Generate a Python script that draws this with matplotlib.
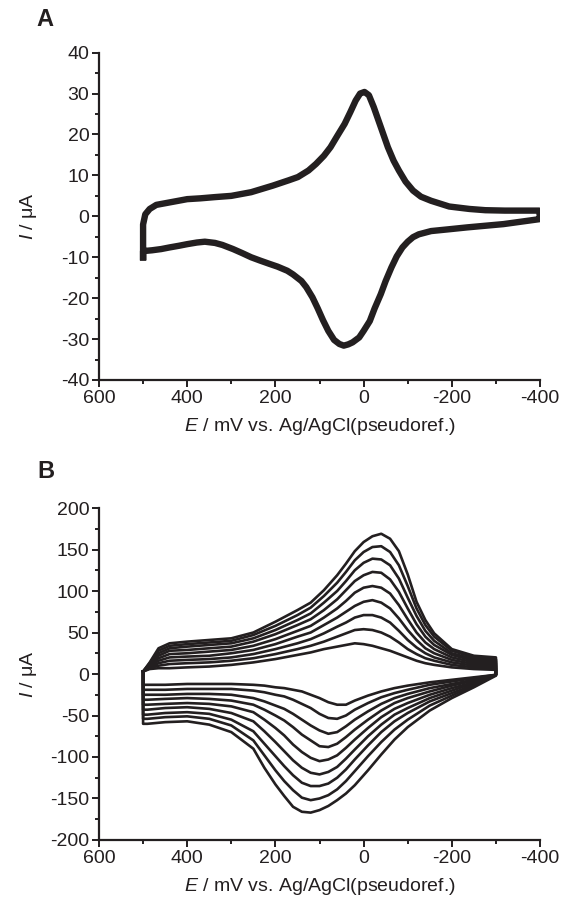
import matplotlib
matplotlib.use("Agg")
import matplotlib.pyplot as plt
import numpy as np
from matplotlib.ticker import MultipleLocator

plt.rcParams["font.family"] = ["Liberation Sans", "DejaVu Sans"]
plt.rcParams["mathtext.fontset"] = "custom"
plt.rcParams["mathtext.rm"] = "Liberation Sans"
plt.rcParams["mathtext.it"] = "Liberation Sans:italic"
plt.rcParams["axes.unicode_minus"] = False

INK = "#231f20"

# --- Panel A: one CV (overlapping cycles) -----------------------------------
a_up_E = [500, 500, 495, 485, 470, 450, 420, 400, 370, 337, 300, 255, 206, 170,
          149, 125, 108, 90, 75, 60, 43, 30, 18, 8, -2, -12, -23, -40, -55, -68,
          -80, -95, -112, -130, -153, -194, -240, -276, -320, -358, -398, -400]
a_up_I = [-10, -2, 0.5, 1.8, 2.8, 3.2, 3.8, 4.2, 4.4, 4.7, 5.0, 5.9, 7.5, 8.8,
          9.6, 11.2, 12.8, 14.8, 16.9, 19.6, 22.6, 25.5, 28.3, 30.0, 30.4, 29.6,
          26.7, 21.5, 16.9, 13.6, 11.2, 8.5, 6.3, 4.8, 3.8, 2.4, 1.8, 1.5, 1.4,
          1.4, 1.4, -0.5]
a_lo_E = [-398, -317, -235, -190, -153, -125, -112, -100, -88, -75, -63, -50,
          -39, -25, -14, 0, 10, 25, 35, 45, 55, 67, 80, 92, 104, 116, 130, 141,
          160, 173, 195, 214, 235, 255, 275, 296, 320, 337, 360, 378, 400, 419,
          440, 459, 480, 500, 500]
a_lo_I = [-0.7, -1.9, -2.7, -3.2, -3.6, -4.4, -5.1, -6.2, -7.6, -9.8, -12.5,
          -15.8, -19.0, -22.5, -25.6, -28.0, -29.6, -30.8, -31.3, -31.6, -31.2,
          -30.2, -28.0, -25.4, -22.5, -19.8, -17.3, -15.8, -14.2, -13.3, -12.3,
          -11.6, -10.8, -10.0, -9.0, -8.0, -7.0, -6.5, -6.2, -6.4, -6.8, -7.2,
          -7.6, -8.0, -8.3, -8.5, -10]

# --- Panel B: 9 scan rates; rows = potential, columns = curve 1..9 ----------
b_up_E = [500, 485, 465, 440, 400, 350, 300, 250, 200, 150, 120, 90, 60, 40,
          20, 0, -20, -40, -60, -80, -100, -120, -140, -160, -200, -250, -300]
b_up_I = [
    [3, 3, 3, 3, 3, 3, 3, 3, 3],
    [6, 7, 8, 9, 10, 11, 12, 13, 14],
    [7, 10, 13, 16, 19, 22, 25, 28, 31],
    [7, 12, 16, 20, 24, 28, 31, 34, 37],
    [8, 13, 17, 21, 25, 29, 33, 36, 39],
    [9, 14, 18, 22, 27, 31, 35, 38, 41],
    [11, 16, 20, 25, 29, 33, 37, 40, 43],
    [14, 19, 24, 29, 34, 39, 43, 47, 50],
    [18, 24, 30, 36, 42, 48, 53, 58, 63],
    [23, 30, 37, 45, 52, 59, 65, 71, 77],
    [26, 34, 42, 50, 58, 66, 73, 80, 86],
    [30, 39, 49, 59, 68, 77, 86, 94, 101],
    [33, 45, 57, 68, 79, 90, 100, 110, 119],
    [35, 49, 62, 75, 88, 101, 112, 123, 133],
    [37, 53, 68, 82, 98, 112, 125, 137, 148],
    [36, 54, 71, 87, 104, 119, 134, 147, 159],
    [34, 53, 71, 89, 106, 123, 139, 153, 166],
    [31, 50, 68, 86, 104, 122, 138, 154, 169],
    [28, 45, 62, 79, 97, 114, 131, 147, 163],
    [24, 38, 52, 67, 83, 99, 115, 131, 148],
    [20, 30, 41, 53, 66, 79, 92, 106, 120],
    [16, 24, 32, 41, 50, 60, 70, 79, 87],
    [13, 19, 25, 31, 38, 45, 52, 59, 65],
    [11, 16, 20, 25, 30, 35, 40, 45, 49],
    [8, 11, 14, 17, 20, 23, 25, 28, 30],
    [6, 8, 10, 12, 14, 16, 18, 20, 22],
    [5, 7, 9, 11, 13, 15, 17, 18, 20],
]
b_lo_E = [-300, -250, -200, -150, -100, -70, -40, -10, 20, 40, 60, 80, 100,
          120, 140, 160, 180, 200, 225, 250, 300, 350, 400, 450, 490, 500]
b_lo_I = [
    [-1, -1, -1, -1, -1, -1, -1, -1, -2],
    [-4, -5, -7, -8, -10, -11, -13, -14, -16],
    [-7, -9, -12, -14, -17, -20, -23, -26, -29],
    [-10, -13, -17, -21, -25, -29, -33, -38, -44],
    [-14, -19, -24, -29, -35, -41, -47, -55, -64],
    [-17, -23, -29, -35, -42, -49, -57, -67, -79],
    [-21, -28, -36, -44, -52, -61, -70, -82, -97],
    [-26, -35, -45, -55, -65, -75, -86, -99, -116],
    [-32, -43, -55, -67, -79, -91, -103, -117, -134],
    [-37, -50, -63, -76, -89, -102, -115, -129, -144],
    [-37, -54, -70, -84, -98, -112, -125, -139, -152],
    [-34, -53, -72, -88, -103, -118, -132, -146, -159],
    [-29, -48, -68, -87, -105, -121, -135, -150, -164],
    [-25, -41, -62, -80, -101, -119, -135, -152, -167],
    [-21, -36, -55, -73, -94, -113, -131, -149, -166],
    [-19, -31, -48, -64, -85, -104, -122, -140, -160],
    [-17, -27, -42, -56, -74, -93, -111, -129, -147],
    [-16, -25, -38, -50, -65, -82, -99, -116, -133],
    [-14, -22, -33, -43, -55, -69, -84, -98, -113],
    [-13, -20, -29, -37, -46, -57, -69, -80, -90],
    [-12, -18, -25, -32, -39, -47, -55, -62, -70],
    [-12, -18, -24, -30, -36, -42, -48, -54, -61],
    [-12, -18, -24, -29, -35, -40, -46, -51, -57],
    [-13, -19, -25, -30, -36, -41, -47, -52, -58],
    [-13, -19, -25, -31, -37, -43, -49, -54, -60],
    [-13, -19, -25, -31, -37, -43, -49, -54, -60],
]


def style_axes(ax, ylim, ymaj, ymin):
    ax.set_xlim(600, -400)
    ax.set_ylim(*ylim)
    ax.xaxis.set_major_locator(MultipleLocator(200))
    ax.xaxis.set_minor_locator(MultipleLocator(100))
    ax.yaxis.set_major_locator(MultipleLocator(ymaj))
    ax.yaxis.set_minor_locator(MultipleLocator(ymin))
    for side in ("top", "right"):
        ax.spines[side].set_visible(False)
    for side in ("left", "bottom"):
        ax.spines[side].set_linewidth(1.6)
        ax.spines[side].set_color(INK)
    ax.tick_params(which="major", direction="out", length=5, width=1.4,
                   labelsize=14, colors=INK, pad=2)
    ax.tick_params(which="minor", direction="out", length=3, width=1.4, colors=INK)
    ax.set_xlabel(r"$E$ / mV vs. Ag/AgCl(pseudoref.)", fontsize=14, color=INK,
                  labelpad=7)
    ax.set_ylabel(r"$I$ / μA", fontsize=14, color=INK)
    ax.yaxis.set_label_coords(-0.135, 0.5)


fig = plt.figure(figsize=(5.64, 9.08), dpi=100)
axA = fig.add_axes([0.1755, 0.5815, 0.782, 0.3605])
axB = fig.add_axes([0.1755, 0.0749, 0.782, 0.3656])

# panel A
axA.plot(a_up_E + a_lo_E, a_up_I + a_lo_I, color=INK, lw=4.6,
         solid_joinstyle="round")
style_axes(axA, (-40, 40), 10, 5)

# panel B
up = np.array(b_up_I)
lo = np.array(b_lo_I)
for k in range(up.shape[1]):
    E = b_up_E + b_lo_E + [b_up_E[0]]
    I = list(up[:, k]) + list(lo[:, k]) + [up[0, k]]
    axB.plot(E, I, color=INK, lw=1.9, solid_joinstyle="round")
style_axes(axB, (-200, 200), 50, 25)

fig.text(0.064, 0.978, "A", fontsize=17, fontweight="bold", color=INK,
         ha="left", va="center")
fig.text(0.066, 0.481, "B", fontsize=17, fontweight="bold", color=INK,
         ha="left", va="center")

fig.savefig("out.png", dpi=100)
